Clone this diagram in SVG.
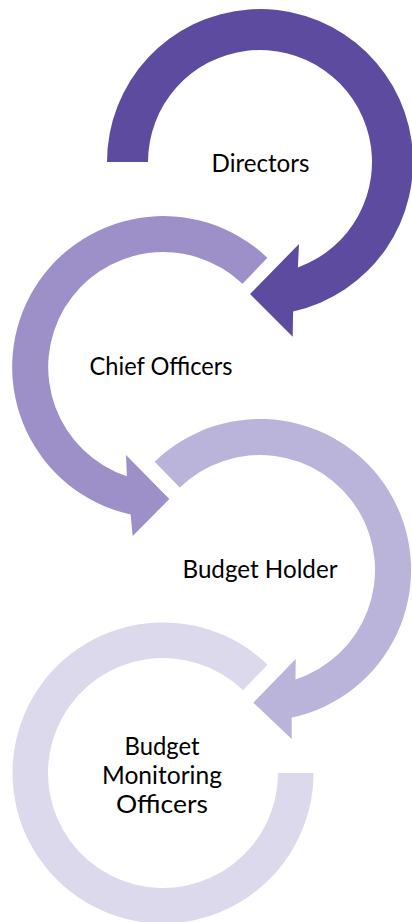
<svg xmlns="http://www.w3.org/2000/svg" width="412" height="922" viewBox="0 0 412 922">
<style>
.lbl{font-family:Lato,"Open Sans","Liberation Sans",sans-serif;font-size:25px;fill:#000;text-anchor:middle}
</style>
<rect width="412" height="922" fill="#fff"/>
<g id="connectors"/>
<g id="node4">
<path fill="#DCD9ED" d="M267.6,664.7 A150.5,150.5 0 1 0 313.5,773 L278,773 A115,115 0 1 1 242.9,690.3 Z"/>
<text class="lbl" x="162" y="755" textLength="75" lengthAdjust="spacingAndGlyphs">Budget</text>
<text class="lbl" x="162" y="784" textLength="120" lengthAdjust="spacingAndGlyphs">Monitoring</text>
<text class="lbl" x="162" y="813" textLength="92" lengthAdjust="spacingAndGlyphs">Officers</text>
</g>
<g id="node3">
<path fill="#BAB3DA" d="M154.7,461.8 A151,151 0 1 1 291.7,717.6 L291.7,739 L253.3,702.7 L295.7,659 L295.5,679.4 A115,115 0 1 0 179.8,487.6 Z"/>
<text class="lbl" x="260" y="578" textLength="155" lengthAdjust="spacingAndGlyphs">Budget Holder</text>
</g>
<g id="node2">
<path fill="#9D8FC8" d="M267.4,257.8 A151,151 0 1 0 130.6,514.5 L132.7,536 L169.3,499 L126,455 L126.9,476.2 A115,115 0 1 1 242.5,283.8 Z"/>
<text class="lbl" x="161" y="375" textLength="143" lengthAdjust="spacingAndGlyphs">Chief Officers</text>
</g>
<g id="node1">
<path fill="#5D4BA0" d="M107,162 A153,153 0 1 1 293.1,311.4 L292.7,336.7 L250,294 L299,244 L297.9,267.4 A112,112 0 1 0 148,162 Z"/>
<text class="lbl" x="260.5" y="172" textLength="98" lengthAdjust="spacingAndGlyphs">Directors</text>
</g>
</svg>
